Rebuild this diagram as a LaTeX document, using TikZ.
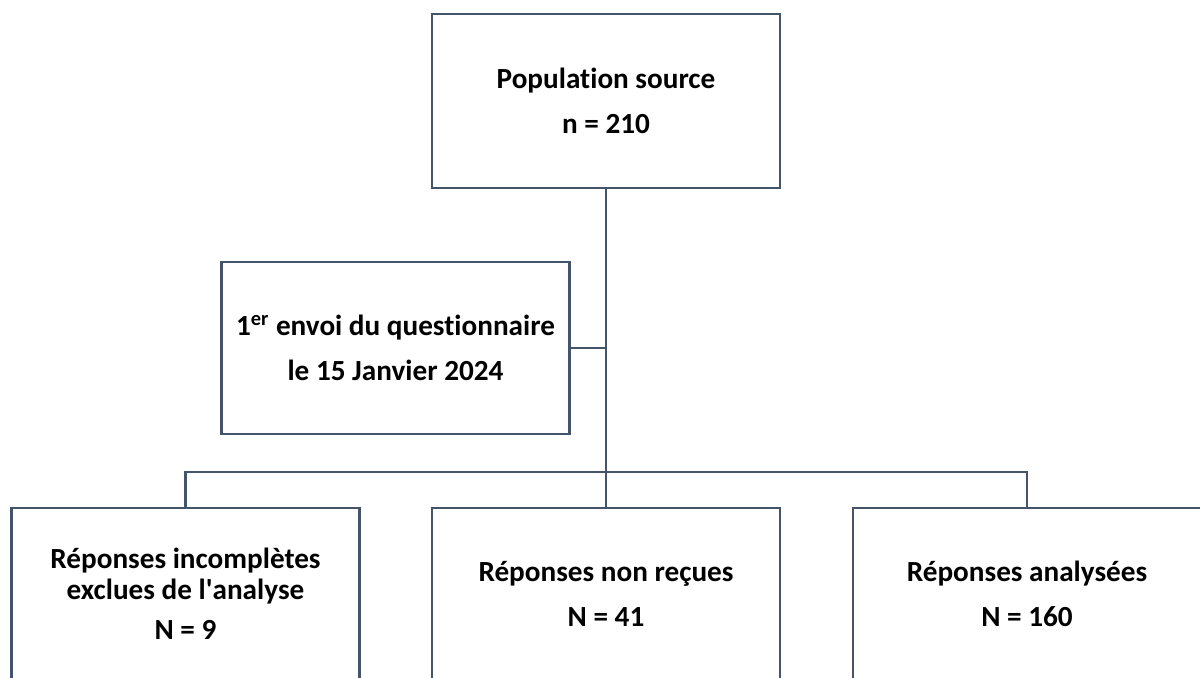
\documentclass[tikz,border=0pt]{standalone}
\usepackage{fontspec}
\setmainfont{Carlito}[Ligatures=NoCommon]
\usepackage{tikz}
\usetikzlibrary{positioning,calc}
\definecolor{slate}{HTML}{44546A}
\tikzstyle{box}=[draw=slate, line width=1.25pt, minimum width=174pt, minimum height=86pt, inner sep=0pt, align=center, font=\fontsize{14.6}{22.5}\selectfont\bfseries]
\tikzstyle{link}=[draw=slate, line width=1.25pt]

\begin{document}
\begin{tikzpicture}[x=0.5pt, y=-0.5pt]
      %
      \useasboundingbox (0,0) rectangle (1200,677);
      \clip (0,0) rectangle (1200,677);
      \node at (606,101) [box, minimum height=87pt] (src) {Population source\\n = 210};
      \node at (395.5,348) [box] (envoi) {1\textsuperscript{er} envoi du questionnaire\\le 15 Janvier 2024};
      \node at (185.5,594) [box, text depth=-8pt] (incompl) {Réponses incomplètes\\[-7pt]exclues de l\textquotesingle analyse\\[-2.5pt]N = 9};
      \node at (606,594) [box] (nonrecu) {Réponses non reçues\\N = 41};
      \node at (1027,594) [box] (analyse) {Réponses analysées\\N = 160};
      \coordinate (bus) at (606,472);
      %
      \draw [link] (src) -- (nonrecu);
      \draw [link] (envoi.east) -- (envoi.east -| src.south);
      \draw [link] (incompl) |- (bus) -| (analyse);
      %
      \end{tikzpicture}
\end{document}
